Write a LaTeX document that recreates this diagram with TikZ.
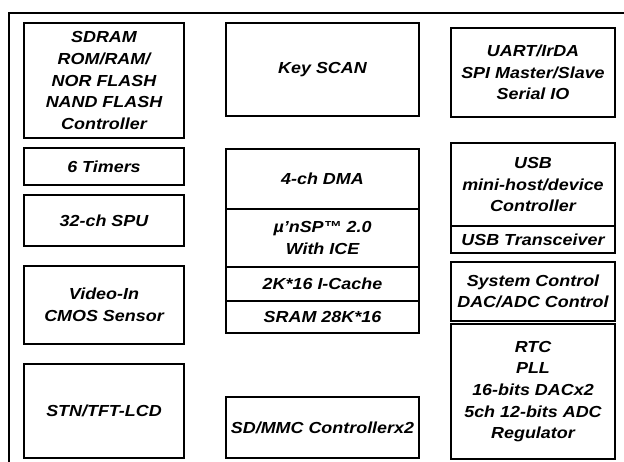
\documentclass[tikz,border=0pt]{standalone}
\usepackage{fontspec}
\setmainfont{Liberation Sans}[FakeStretch=1.12]
\begin{document}
\begin{tikzpicture}[x=1pt,y=-1pt,
  blk/.style={draw=black, line width=1.7pt, rectangle, inner sep=0pt, align=center,
    font=\fontsize{16}{21.7}\selectfont\bfseries\itshape},
  frame/.style={line width=2pt}]
\useasboundingbox (0,0) rectangle (624,462);
\draw[frame] (624,13) -- (8.5,13) -- (8.5,462);
% left column
\node[blk, minimum width=160pt, minimum height=115pt] (sdram) at (104,80.5) {SDRAM\\ROM/RAM/\\NOR FLASH\\NAND FLASH\\Controller};
\node[blk, minimum width=160pt, minimum height=37pt] (timers) at (104,166.5) {6 Timers};
\node[blk, minimum width=160pt, minimum height=51pt] (spu) at (104,220.5) {32-ch SPU};
\node[blk, minimum width=160pt, minimum height=78pt] (video) at (104,305) {Video-In\\CMOS Sensor};
\node[blk, minimum width=160pt, minimum height=94pt] (lcd) at (104,411) {STN/TFT-LCD};
% middle column
\node[blk, minimum width=193pt, minimum height=93pt] (key) at (322.5,69.5) {Key SCAN};
\node[blk, minimum width=193pt, minimum height=60pt] (dma) at (322.5,179) {4-ch DMA};
\node[blk, minimum width=193pt, minimum height=58pt] (cpu) at (322.5,238) {µ’nSP™ 2.0\\With ICE};
\node[blk, minimum width=193pt, minimum height=34pt] (icache) at (322.5,284) {2K*16 I-Cache};
\node[blk, minimum width=193pt, minimum height=32pt] (sram) at (322.5,317) {SRAM 28K*16};
\node[blk, minimum width=193pt, minimum height=61pt] (sdmmc) at (322.5,427.5) {SD/MMC Controllerx2};
% right column
\node[blk, minimum width=164pt, minimum height=89pt] (uart) at (533,72.5) {UART/IrDA\\SPI Master/Slave\\Serial IO};
\node[blk, minimum width=164pt, minimum height=83pt] (usb) at (533,184.5) {USB\\mini-host/device\\Controller};
\node[blk, minimum width=164pt, minimum height=27pt] (usbt) at (533,239.5) {USB Transceiver};
\node[blk, minimum width=164pt, minimum height=59pt] (sysc) at (533,291.5) {System Control\\DAC/ADC Control};
\node[blk, minimum width=164pt, minimum height=135pt] (rtc) at (533,391.5) {RTC\\PLL\\16-bits DACx2\\5ch 12-bits ADC\\Regulator};
\end{tikzpicture}
\end{document}
